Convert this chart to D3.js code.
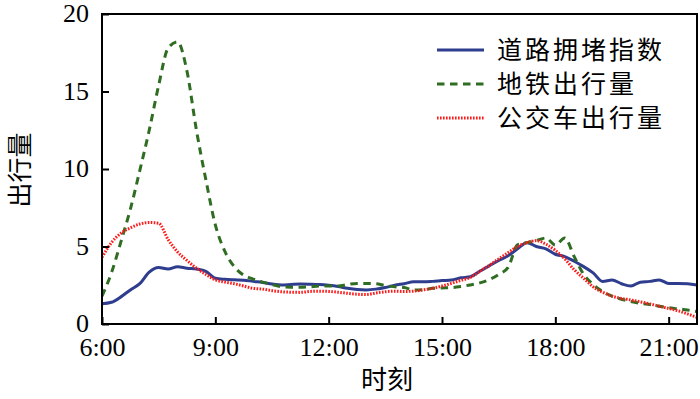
<!DOCTYPE html>
<html><head><meta charset="utf-8">
<script src="https://cdn.jsdelivr.net/npm/d3@7"></script>
<style>body{margin:0;background:#fff}</style>
</head><body>
<svg id="chart" width="700" height="399"></svg>
<script>
// times in hours, 15-minute steps from 6:00 to 21:45
const times = d3.range(64).map(i => 6 + i * 0.25);
const roadIndex = [
  1.3,1.4,1.75,2.2, 2.6,3.35,3.65,3.55, 3.7,3.6,3.55,3.4, 2.95,2.88,2.85,2.83,
  2.75,2.68,2.58,2.52, 2.55,2.58,2.57,2.55, 2.5,2.42,2.3,2.22, 2.2,2.25,2.35,2.5,
  2.6,2.72,2.72,2.75, 2.8,2.84,2.98,3.05, 3.4,3.75,4.1,4.4, 4.85,5.25,5.0,4.85,
  4.5,4.35,4.05,3.7, 3.3,2.75,2.84,2.6, 2.45,2.7,2.75,2.84, 2.62,2.62,2.6,2.52
];
const metro = [
  1.8,3.3,5.3,7.4, 9.9,12.5,15.4,17.8, 18.2,16.3,12.5,9.3, 6.4,4.7,3.7,3.15,
  2.9,2.7,2.55,2.4, 2.37,2.37,2.4,2.45, 2.45,2.45,2.55,2.62, 2.62,2.6,2.48,2.4,
  2.35,2.2,2.22,2.3, 2.33,2.35,2.42,2.52, 2.65,2.86,3.2,3.65, 5.1,5.25,5.38,5.55,
  5.1,5.55,4.35,3.2, 2.55,2.1,1.8,1.6, 1.45,1.33,1.25,1.15, 1.05,0.98,0.9,0.8
];
const bus = [
  4.3,5.25,5.85,6.2, 6.45,6.55,6.5,5.45, 4.65,4.1,3.6,3.2, 2.85,2.7,2.6,2.45,
  2.3,2.25,2.15,2.08, 2.05,2.04,2.1,2.12, 2.1,2.05,1.98,1.92, 1.9,2.0,2.08,2.12,
  2.1,2.12,2.2,2.3, 2.45,2.62,2.82,3.0, 3.4,3.78,4.2,4.6, 5.0,5.25,5.38,5.15,
  4.75,4.2,3.5,2.95, 2.4,2.05,1.8,1.65, 1.55,1.43,1.3,1.15, 1.0,0.85,0.65,0.43
];
const xTickValues = [6, 9, 12, 15, 18, 21];
const xTickLabels = ["6:00", "9:00", "12:00", "15:00", "18:00", "21:00"];
const yTickValues = [0, 5, 10, 15, 20];
const seriesNames = ["道路拥堵指数", "地铁出行量", "公交车出行量"];
const xTitle = "时刻";
const yTitle = "出行量";

const series = [
  {name: seriesNames[0], values: roadIndex, color: "#2f3d8f", dash: null, width: 3},
  {name: seriesNames[1], values: metro, color: "#2f6e22", dash: "7.5,5.5", width: 3},
  {name: seriesNames[2], values: bus, color: "#ff1a1a", dash: "1.6,1.4", width: 3}
];

const svg = d3.select("#chart");
const m = {left: 102, top: 14, right: 3, bottom: 75};
const W = 700 - m.left - m.right, H = 399 - m.top - m.bottom;
const x = d3.scaleLinear().domain([6, 21.75]).range([0, W]);
const y = d3.scaleLinear().domain([0, 20]).range([H, 0]);
const g = svg.append("g").attr("transform", `translate(${m.left},${m.top})`);

g.append("clipPath").attr("id", "clip").append("rect").attr("width", W).attr("height", H);

const line = d3.line().x((d, i) => x(times[i])).y(d => y(d)).curve(d3.curveMonotoneX);
const lg = g.append("g").attr("clip-path", "url(#clip)");
series.forEach(s => {
  lg.append("path").datum(s.values).attr("d", line)
    .attr("fill", "none").attr("stroke", s.color).attr("stroke-width", s.width)
    .attr("stroke-dasharray", s.dash);
});

const serif = "'Liberation Serif','Times New Roman',serif";
const cjk = "'Noto Sans CJK SC','Noto Sans CJK JP',sans-serif";

// axes (ticks inward)
const xAxis = d3.axisBottom(x).tickValues(xTickValues).tickSizeInner(-7).tickSizeOuter(0)
  .tickPadding(13).tickFormat((d, i) => xTickLabels[i]);
const xa = g.append("g").attr("transform", `translate(0,${H})`).call(xAxis);
const yAxis = d3.axisLeft(y).tickValues(yTickValues).tickSizeInner(-7).tickSizeOuter(0).tickPadding(13);
const ya = g.append("g").call(yAxis);
[xa, ya].forEach(a => {
  a.select(".domain").remove();
  a.selectAll(".tick line").attr("stroke", "#000").attr("stroke-width", 2);
  a.selectAll(".tick text").attr("font-family", serif).attr("font-size", 26).attr("fill", "#000");
});
xa.selectAll(".tick text").attr("dy", null).attr("y", 32);
ya.selectAll(".tick text").attr("dy", "0.3em");

g.append("rect").attr("width", W).attr("height", H).attr("fill", "none")
  .attr("stroke", "#000").attr("stroke-width", 2);

// titles
svg.append("text").attr("x", 387).attr("y", 389).attr("text-anchor", "middle")
  .attr("font-family", cjk).attr("font-size", 26).text(xTitle);
svg.append("text").attr("transform", "translate(29,170) rotate(-90)").attr("text-anchor", "middle")
  .attr("font-family", cjk).attr("font-size", 25).text(yTitle);

// legend
const leg = svg.append("g");
const rowsY = [50, 84, 118];
series.forEach((s, i) => {
  leg.append("line").attr("x1", 437).attr("x2", 484).attr("y1", rowsY[i]).attr("y2", rowsY[i])
    .attr("stroke", s.color).attr("stroke-width", s.width).attr("stroke-dasharray", s.dash);
  leg.append("text").attr("x", 497).attr("y", rowsY[i]).attr("dy", "0.36em")
    .attr("font-family", cjk).attr("font-size", 25).attr("letter-spacing", 3).text(s.name);
});
</script>
</body></html>
